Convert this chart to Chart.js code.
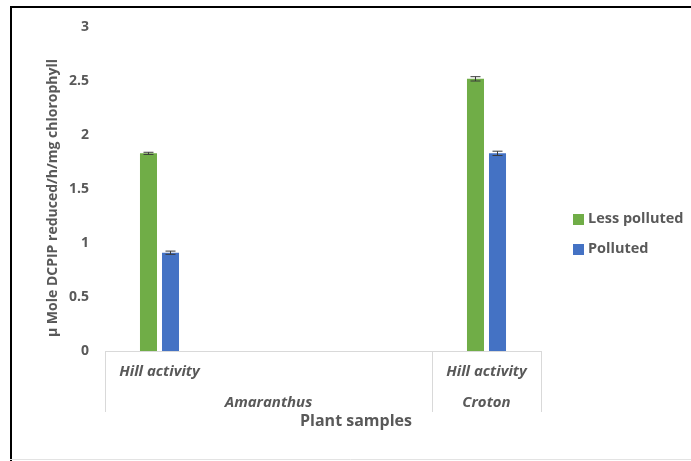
<!DOCTYPE html>
<html>
<head>
<meta charset="utf-8">
<script src="https://cdn.jsdelivr.net/npm/chart.js@4"></script>
<style>
    html, body { margin: 0; padding: 0; background: #ffffff; }
    #contenedor { position: relative; width: 691px; height: 461px; }
</style>
</head>
<body>
<div id="contenedor"><canvas id="graficoHill"></canvas></div>
<script>
// categorias (nivel 1 y nivel 2)
const subcategorias = ['Hill activity', '', '', 'Hill activity'];
const grupos = ['Amaranthus', 'Croton'];
const grupoInicio = [0, 3];
const grupoFin = [2, 3];

// series
const menosContaminado = [1.83, null, null, 2.52];
const contaminado = [0.91, null, null, 1.83];
const errorMenos = [0.01, null, null, 0.02];
const errorContaminado = [0.015, null, null, 0.02];

// eje y
const ticksY = [0, 0.5, 1, 1.5, 2, 2.5, 3];

const GRIS_TEXTO = '#595959';
const FUENTE = "'Open Sans', sans-serif";

const pluginDecoracion = {
    id: 'decoracion',
    beforeDraw(chart) {
        const ctx = chart.ctx;
        ctx.save();
        // marco del grafico
        ctx.strokeStyle = '#000000';
        ctx.lineWidth = 2;
        ctx.beginPath();
        ctx.moveTo(10, 7);
        ctx.lineTo(chart.width, 7);
        ctx.moveTo(11, 6);
        ctx.lineTo(11, chart.height);
        ctx.stroke();
        ctx.strokeStyle = '#e3e3e3';
        ctx.lineWidth = 1;
        ctx.beginPath();
        ctx.moveTo(10, 459.5);
        ctx.lineTo(chart.width, 459.5);
        ctx.stroke();
        ctx.restore();
    },
    afterDatasetsDraw(chart) {
        const ctx = chart.ctx;
        const y = chart.scales.y;
        [errorMenos, errorContaminado].forEach((errores, di) => {
            const meta = chart.getDatasetMeta(di);
            meta.data.forEach((barra, i) => {
                const v = chart.data.datasets[di].data[i];
                if (v == null || errores[i] == null) return;
                const yArriba = y.getPixelForValue(v + errores[i]);
                const yAbajo = y.getPixelForValue(v - errores[i]);
                ctx.save();
                ctx.strokeStyle = '#3a3a3a';
                ctx.lineWidth = 1;
                ctx.beginPath();
                ctx.moveTo(barra.x, yArriba);
                ctx.lineTo(barra.x, yAbajo);
                ctx.moveTo(barra.x - 5, yArriba);
                ctx.lineTo(barra.x + 5, yArriba);
                ctx.moveTo(barra.x - 5, yAbajo);
                ctx.lineTo(barra.x + 5, yAbajo);
                ctx.stroke();
                ctx.restore();
            });
        });
    },
    afterDraw(chart) {
        const ctx = chart.ctx;
        const x = chart.scales.x;
        const area = chart.chartArea;
        const ancho = x.width / subcategorias.length;
        const fondoCaja = area.bottom + 61;

        ctx.save();
        // lineas de la caja de categorias y etiquetas de grupo
        ctx.strokeStyle = '#d9d9d9';
        ctx.lineWidth = 1;
        ctx.font = 'italic bold 15px ' + FUENTE;
        ctx.fillStyle = GRIS_TEXTO;
        ctx.textAlign = 'center';
        ctx.textBaseline = 'middle';
        grupos.forEach((nombre, g) => {
            const izq = x.getPixelForValue(grupoInicio[g]) - ancho / 2;
            const der = x.getPixelForValue(grupoFin[g]) + ancho / 2;
            ctx.beginPath();
            ctx.moveTo(Math.round(izq) + 0.5, area.bottom);
            ctx.lineTo(Math.round(izq) + 0.5, fondoCaja);
            ctx.moveTo(Math.round(der) + 0.5, area.bottom);
            ctx.lineTo(Math.round(der) + 0.5, fondoCaja);
            ctx.stroke();
            ctx.fillText(nombre, (izq + der) / 2, area.bottom + 52);
        });

        // titulos de ejes
        ctx.font = 'bold 16px ' + FUENTE;
        ctx.fillText('Plant samples', (area.left + area.right) / 2 + 33, area.bottom + 70);
        ctx.save();
        ctx.translate(53, (area.top + area.bottom) / 2 + 9);
        ctx.rotate(-Math.PI / 2);
        ctx.font = 'bold 14px ' + FUENTE;
        ctx.fillText('\u03bc Mole DCPIP reduced/h/mg chlorophyll', 0, 0);
        ctx.restore();

        // leyenda
        ctx.font = 'bold 14.5px ' + FUENTE;
        ctx.textAlign = 'left';
        chart.data.datasets.forEach((ds, i) => {
            const yc = 219 + i * 30;
            ctx.fillStyle = ds.backgroundColor;
            ctx.fillRect(area.right + 32, yc - 5, 11, 11);
            ctx.fillStyle = GRIS_TEXTO;
            ctx.fillText(ds.label, area.right + 47, yc);
        });
        ctx.restore();
    }
};

document.addEventListener('DOMContentLoaded', () => {
    const ctx = document.getElementById('graficoHill').getContext('2d');
    new Chart(ctx, {
        type: 'bar',
        data: {
            labels: subcategorias,
            datasets: [
                {
                    label: 'Less polluted',
                    data: menosContaminado,
                    backgroundColor: '#70ad47',
                    categoryPercentage: 0.404,
                    barPercentage: 0.773
                },
                {
                    label: 'Polluted',
                    data: contaminado,
                    backgroundColor: '#4472c4',
                    categoryPercentage: 0.404,
                    barPercentage: 0.773
                }
            ]
        },
        options: {
            responsive: true,
            maintainAspectRatio: false,
            animation: false,
            layout: {
                padding: { top: 27, right: 150, bottom: 0, left: 0 }
            },
            plugins: {
                legend: { display: false },
                tooltip: { enabled: false }
            },
            scales: {
                y: {
                    min: 0,
                    max: 3,
                    afterBuildTicks: (scale) => {
                        scale.ticks = ticksY.map(v => ({ value: v }));
                    },
                    afterFit: (scale) => { scale.width = 105; },
                    grid: { display: false, drawTicks: false },
                    border: { display: false },
                    ticks: {
                        padding: 16,
                        color: GRIS_TEXTO,
                        font: { family: FUENTE, size: 14, weight: 'bold' },
                        callback: (valor) => String(valor)
                    }
                },
                x: {
                    afterFit: (scale) => { scale.height = 110; },
                    grid: { display: false, drawTicks: false },
                    border: { display: true, color: '#d9d9d9', width: 1 },
                    ticks: {
                        padding: 12,
                        autoSkip: false,
                        maxRotation: 0,
                        color: GRIS_TEXTO,
                        font: { family: FUENTE, size: 15, weight: 'bold', style: 'italic' }
                    }
                }
            }
        },
        plugins: [pluginDecoracion]
    });
});
</script>
</body>
</html>
